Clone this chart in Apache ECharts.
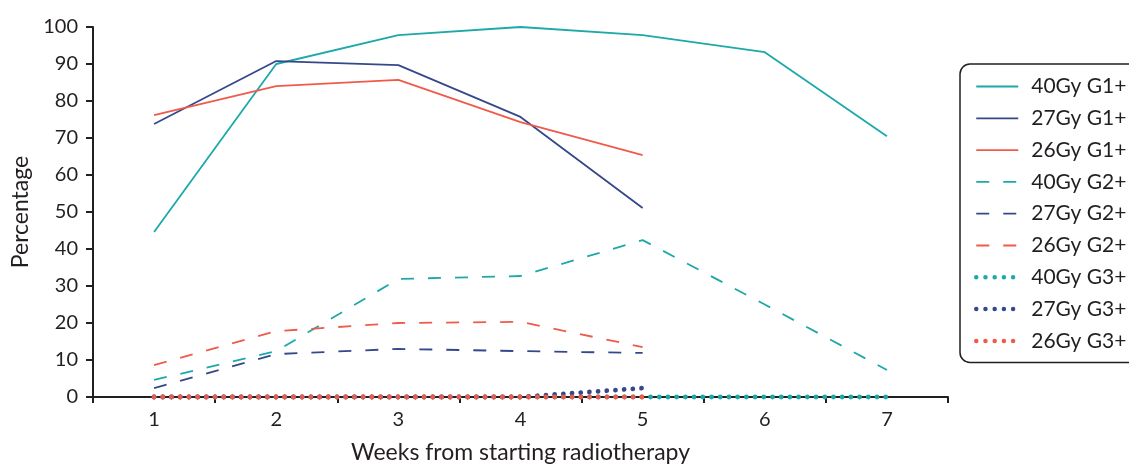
<!DOCTYPE html>
<html><head><meta charset="utf-8">
<script src="https://cdn.jsdelivr.net/npm/echarts@6/dist/echarts.min.js"></script>
<style>html,body{margin:0;padding:0;background:#fff;overflow:hidden}#c{width:1129px;height:464px}</style>
</head><body><div id="c"></div>
<script>
const weeks = ['1','2','3','4','5','6','7'];
const yTicks = [0,10,20,30,40,50,60,70,80,90,100];
const g1_40 = [44.6, 90.0, 97.8, 100, 97.8, 93.2, 70.5];
const g1_27 = [73.8, 90.8, 89.7, 75.7, 51.1];
const g1_26 = [76.2, 84.0, 85.7, 74.3, 65.4];
const g2_40 = [4.6, 12.4, 31.9, 32.7, 42.4, 25.0, 7.3];
const g2_27 = [2.4, 11.6, 13.0, 12.4, 11.9];
const g2_26 = [8.6, 17.8, 20.0, 20.3, 13.5];
const g3_40 = [0, 0, 0, 0, 0, 0, 0];
const g3_27 = [0, 0, 0, 0, 2.4];
const g3_26 = [0, 0, 0, 0, 0];

const TEAL = '#1DA8A9', NAVY = '#35488A', RED = '#F05A4B';
const FONT = 'Lato';
const INK = '#231F20';
function s(name, data, color, kind) {
  const ls = {color: color, width: 1.8};
  if (kind === 'dash') { ls.type = [13, 14]; }
  if (kind === 'dot') { ls.type = [0.01, 8.7]; ls.width = 4.8; ls.cap = 'round'; }
  return {name: name, type: 'line', data: data, symbol: 'none', showSymbol: false,
    clip: false, lineStyle: ls, itemStyle: {color: color}, animation: false, z: 3};
}
function leg(name, color, kind) {
  const ls = {color: color, width: 1.8, cap: 'butt', type: 'solid'};
  if (kind === 'dash') { ls.type = [13, 14]; }
  if (kind === 'dot') { ls.type = [0.01, 9.2]; ls.width = 4.5; ls.cap = 'round'; }
  return {name: name, lineStyle: ls};
}
const chart = echarts.init(document.getElementById('c'));
chart.setOption({
  animation: false,
  grid: {left: 93, right: 181, top: 27, bottom: 67, containLabel: false, outerBoundsMode: 'none'},
  xAxis: {
    type: 'category', data: weeks, boundaryGap: true,
    name: 'Weeks from starting radiotherapy', nameLocation: 'middle', nameGap: 44,
    nameTextStyle: {fontFamily: FONT, fontSize: 23, color: INK},
    axisLine: {lineStyle: {color: INK, width: 2}},
    axisTick: {show: true, length: 6, lineStyle: {color: INK, width: 2}},
    axisLabel: {fontFamily: FONT, fontSize: 20, color: INK, margin: 13},
    splitLine: {show: false}, z: 1
  },
  yAxis: {
    type: 'value', min: 0, max: 100, interval: 10,
    name: 'Percentage', nameLocation: 'middle', nameGap: 61, nameRotate: 90,
    nameTextStyle: {fontFamily: FONT, fontSize: 23, color: INK},
    axisLine: {show: true, lineStyle: {color: INK, width: 2}},
    axisTick: {show: true, length: 7, lineStyle: {color: INK, width: 2}},
    axisLabel: {fontFamily: FONT, fontSize: 20, color: INK, margin: 15,
      formatter: v => yTicks.includes(v) ? String(v) : ''},
    splitLine: {show: false}, z: 1
  },
  legend: {
    orient: 'vertical', left: 960, top: 64,
    itemWidth: 42, itemHeight: 14, itemGap: 10.8,
    padding: [12, 70, 11, 14],
    borderColor: INK, borderWidth: 1.5, borderRadius: 10,
    itemStyle: {opacity: 0},
    textStyle: {fontFamily: FONT, fontSize: 21, color: INK, lineHeight: 20, padding: [0,0,0,8]},
    data: [
      leg('40Gy G1+', TEAL, 'solid'), leg('27Gy G1+', NAVY, 'solid'), leg('26Gy G1+', RED, 'solid'),
      leg('40Gy G2+', TEAL, 'dash'), leg('27Gy G2+', NAVY, 'dash'), leg('26Gy G2+', RED, 'dash'),
      leg('40Gy G3+', TEAL, 'dot'), leg('27Gy G3+', NAVY, 'dot'), leg('26Gy G3+', RED, 'dot')
    ]
  },
  series: [
    s('40Gy G1+', g1_40, TEAL, 'solid'),
    s('27Gy G1+', g1_27, NAVY, 'solid'),
    s('26Gy G1+', g1_26, RED, 'solid'),
    s('40Gy G2+', g2_40, TEAL, 'dash'),
    s('27Gy G2+', g2_27, NAVY, 'dash'),
    s('26Gy G2+', g2_26, RED, 'dash'),
    s('40Gy G3+', g3_40, TEAL, 'dot'),
    s('27Gy G3+', g3_27, NAVY, 'dot'),
    s('26Gy G3+', g3_26, RED, 'dot')
  ]
});
</script></body></html>
